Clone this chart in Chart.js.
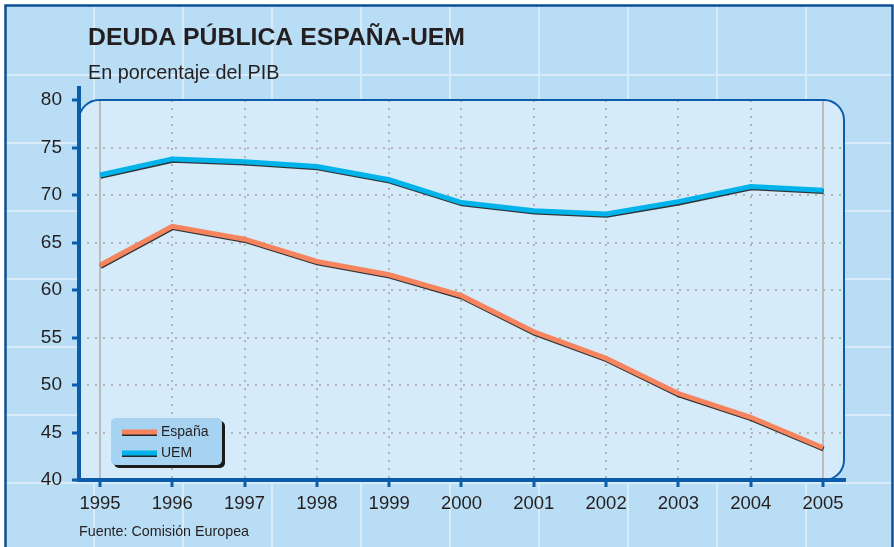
<!DOCTYPE html>
<html>
<head>
<meta charset="utf-8">
<title>Deuda pública España-UEM</title>
<script src="https://cdn.jsdelivr.net/npm/chart.js@4.4.1/dist/chart.umd.min.js"></script>
<style>
  html, body { margin: 0; padding: 0; background: #fff; }
  canvas { display: block; }
</style>
</head>
<body>
<canvas id="deudaChart" width="894" height="547"></canvas>
<script>
// valores (% del PIB)
const years = [1995, 1996, 1997, 1998, 1999, 2000, 2001, 2002, 2003, 2004, 2005];
const espana = [62.6, 66.7, 65.35, 63.0, 61.6, 59.4, 55.6, 52.8, 49.1, 46.6, 43.4];
const uem = [72.1, 73.8, 73.5, 73.0, 71.6, 69.2, 68.35, 68.0, 69.3, 70.9, 70.5];
const yTicks = [40, 45, 50, 55, 60, 65, 70, 75, 80];

const navy = "#0b5dab";
const textColor = "#231f20";
const font = "'Liberation Sans', Arial, sans-serif";

const toPoints = values => values.map((v, i) => ({ x: years[i], y: v }));

const backdrop = {
  id: "backdrop",
  beforeDraw(chart) {
    const ctx = chart.ctx;
    const a = chart.chartArea;
    ctx.save();
    ctx.fillStyle = "#fff";
    ctx.fillRect(0, 0, chart.width, chart.height);
    ctx.fillStyle = "#b9ddf4";
    ctx.fillRect(5, 5, chart.width - 6, chart.height - 5);

    // cuadrícula clara del fondo
    ctx.strokeStyle = "rgba(255,255,255,0.45)";
    ctx.lineWidth = 2;
    ctx.beginPath();
    for (let x = 94; x < chart.width; x += 89) {
      ctx.moveTo(x, 6); ctx.lineTo(x, chart.height);
    }
    for (let y = 75; y < chart.height; y += 68) {
      ctx.moveTo(6, y); ctx.lineTo(chart.width - 2, y);
    }
    ctx.stroke();

    ctx.strokeStyle = "#0d4f93";
    ctx.lineWidth = 2.5;
    ctx.beginPath();
    ctx.moveTo(5.5, chart.height);
    ctx.lineTo(5.5, 5.5);
    ctx.lineTo(892.5, 5.5);
    ctx.lineTo(892.5, chart.height);
    ctx.stroke();

    // panel del gráfico
    ctx.fillStyle = "#d5ebf9";
    ctx.beginPath();
    ctx.roundRect(a.left, a.top, 844 - a.left, a.bottom - a.top, [20, 20, 20, 0]);
    ctx.fill();

    // textos
    ctx.fillStyle = textColor;
    ctx.textBaseline = "alphabetic";
    ctx.textAlign = "left";
    ctx.font = "bold 24.8px " + font;
    ctx.fillText("DEUDA PÚBLICA ESPAÑA-UEM", 88, 44.5);
    ctx.font = "19.8px " + font;
    ctx.fillText("En porcentaje del PIB", 88, 79);
    ctx.font = "14.3px " + font;
    ctx.fillText("Fuente: Comisión Europea", 79, 536);
    ctx.restore();
  },
  beforeDatasetsDraw(chart) {
    const ctx = chart.ctx;
    const a = chart.chartArea;
    ctx.save();
    ctx.strokeStyle = navy;
    ctx.lineWidth = 2;
    ctx.beginPath();
    ctx.roundRect(a.left, a.top, 844 - a.left, a.bottom - a.top, [20, 20, 20, 0]);
    ctx.stroke();
    ctx.restore();
  },
  afterDraw(chart) {
    const ctx = chart.ctx;
    const a = chart.chartArea;
    ctx.save();
    // ejes
    ctx.strokeStyle = navy;
    ctx.lineWidth = 4;
    ctx.beginPath();
    ctx.moveTo(a.left, 86);
    ctx.lineTo(a.left, a.bottom + 2);
    ctx.moveTo(a.left - 2, a.bottom);
    ctx.lineTo(846, a.bottom);
    ctx.stroke();

    // leyenda
    ctx.fillStyle = "#1b1b1b";
    ctx.beginPath();
    ctx.roundRect(114, 421, 111, 47, 5);
    ctx.fill();
    ctx.fillStyle = "#a6d3f1";
    ctx.beginPath();
    ctx.roundRect(111, 418, 111, 47, 5);
    ctx.fill();
    chart.data.datasets.forEach((ds, i) => {
      const y = 432 + i * 21;
      ctx.save();
      ctx.shadowColor = "rgba(20,20,20,0.9)";
      ctx.shadowOffsetY = 1.5;
      ctx.strokeStyle = ds.borderColor;
      ctx.lineWidth = 5;
      ctx.beginPath();
      ctx.moveTo(122, y);
      ctx.lineTo(157, y);
      ctx.stroke();
      ctx.restore();
      ctx.fillStyle = textColor;
      ctx.font = "14px " + font;
      ctx.textBaseline = "middle";
      ctx.fillText(ds.label, 161, y);
    });
    ctx.restore();
  }
};

const lineShadow = {
  id: "lineShadow",
  beforeDatasetDraw(chart) {
    const ctx = chart.ctx;
    ctx.save();
    ctx.shadowColor = "rgba(20,20,20,0.85)";
    ctx.shadowOffsetX = 0.5;
    ctx.shadowOffsetY = 1.3;
    ctx.shadowBlur = 0;
  },
  afterDatasetDraw(chart) {
    chart.ctx.restore();
  }
};

const isEdgeYear = v => v === years[0] || v === years[years.length - 1];

new Chart(document.getElementById("deudaChart"), {
  type: "line",
  data: {
    datasets: [
      { label: "España", data: toPoints(espana), borderColor: "#f5845f", borderWidth: 5 },
      { label: "UEM", data: toPoints(uem), borderColor: "#00b4eb", borderWidth: 5 }
    ]
  },
  options: {
    responsive: false,
    animation: false,
    events: [],
    layout: { padding: { top: 100, right: 49, left: 0, bottom: 0 } },
    elements: {
      point: { radius: 0 },
      line: { tension: 0, borderJoinStyle: "miter", fill: false }
    },
    plugins: {
      legend: { display: false },
      title: { display: false },
      tooltip: { enabled: false }
    },
    scales: {
      x: {
        type: "linear",
        min: 1994.71,
        max: 2005.304,
        afterFit: scale => { scale.height = 67; },
        afterBuildTicks: scale => { scale.ticks = years.map(v => ({ value: v })); },
        ticks: {
          color: textColor,
          font: { family: font, size: 18.5 },
          padding: 6,
          maxRotation: 0,
          callback: v => String(v)
        },
        grid: {
          color: ctx => isEdgeYear(ctx.tick.value) ? "#bcbcbc" : "#b3b3b3",
          lineWidth: 2,
          tickColor: navy,
          tickWidth: 3,
          tickLength: 7
        },
        border: {
          display: false,
          dash: ctx => isEdgeYear(ctx.tick && ctx.tick.value) ? [] : [2, 6]
        }
      },
      y: {
        min: 40,
        max: 80,
        afterFit: scale => { scale.width = 79; },
        afterBuildTicks: scale => { scale.ticks = yTicks.map(v => ({ value: v })); },
        ticks: {
          color: textColor,
          font: { family: font, size: 19 },
          padding: 10
        },
        grid: {
          color: ctx => (ctx.tick.value === 40 || ctx.tick.value === 80) ? "rgba(0,0,0,0)" : "#b3b3b3",
          lineWidth: 2,
          tickColor: navy,
          tickWidth: 3,
          tickLength: 7
        },
        border: { display: false, dash: [2, 6] }
      }
    }
  },
  plugins: [backdrop, lineShadow]
});
</script>
</body>
</html>
